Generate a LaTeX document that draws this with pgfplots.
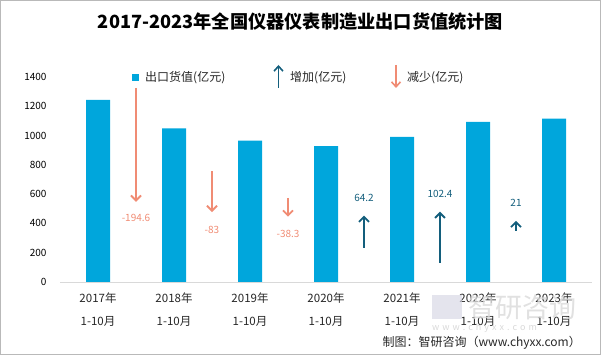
\documentclass[border=0pt]{standalone}
\usepackage{pgfplots}
\pgfplotsset{compat=1.18}
\usepackage{fontspec}
\setmainfont{Noto Sans CJK SC}
\usetikzlibrary{arrows.meta}
\definecolor{barblue}{HTML}{00A6DC}
\definecolor{upc}{HTML}{135E7C}
\definecolor{downc}{HTML}{F08C74}
\definecolor{txt}{HTML}{262626}
\begin{document}
\begin{tikzpicture}[x=1pt,y=1pt]
\draw[gray!55, line width=1pt] (0.5,0.5) rectangle (600.5,354.5);
\node[font=\bfseries\fontsize{18.2}{18.2}\selectfont, text=black] at (300.5,333) {2017-2023年全国仪器仪表制造业出口货值统计图};
\begin{axis}[at={(98pt,73pt)}, anchor=origin, scale only axis,
  width=532pt, height=205pt,
  xmin=-0.5, xmax=6.5, ymin=0, ymax=1400,
  axis x line=bottom, axis y line=left,
  x axis line style={-, draw=gray!30, line width=0.8pt},
  y axis line style={draw=none},
  major tick length=0pt,
  ytick={0,200,...,1400},
  xtick={0,...,6},
  xticklabels={{2017年\\1-10月},{2018年\\1-10月},{2019年\\1-10月},{2020年\\1-10月},{2021年\\1-10月},{2022年\\1-10月},{2023年\\1-10月}},
  xticklabel style={align=center, font=\fontsize{11.5}{23}\selectfont, text=txt, yshift=-7pt},
  yticklabel style={font=\fontsize{10}{10}\selectfont, text=black, xshift=-10pt},
  /pgf/number format/assume math mode=true,
  /pgf/number format/1000 sep={},
  clip=false,
]
\addplot[ybar, bar width=24pt, fill=barblue, draw=none] coordinates {
  (0,1243.6) (1,1049.0) (2,966.0) (3,927.7) (4,991.9) (5,1094.3) (6,1115.3)};
% decrease arrows
\addplot[downc, line width=1.8pt, -{Straight Barb[length=5pt,width=10pt]}] coordinates {(0.5,1325) (0.5,548)};
\addplot[downc, line width=1.8pt, -{Straight Barb[length=5pt,width=10pt]}] coordinates {(1.5,758) (1.5,478)};
\addplot[downc, line width=1.8pt, -{Straight Barb[length=5pt,width=10pt]}] coordinates {(2.5,574) (2.5,446)};
% increase arrows
\addplot[upc, line width=1.8pt, -{Straight Barb[length=5pt,width=10pt]}] coordinates {(3.5,234) (3.5,453)};
\addplot[upc, line width=1.8pt, -{Straight Barb[length=5pt,width=10pt]}] coordinates {(4.5,130) (4.5,480)};
\addplot[upc, line width=1.8pt, -{Straight Barb[length=5pt,width=10pt]}] coordinates {(5.5,350) (5.5,418)};
% labels
\addplot[draw=none, mark=none, nodes near coords, point meta=explicit symbolic,
  nodes near coords style={anchor=center, font=\fontsize{10}{10}\selectfont, text=downc}]
  table[meta=lab] {
x y lab
0.5 437 -194.6
1.5 355 -83
2.5 328 -38.3
};
\addplot[draw=none, mark=none, nodes near coords, point meta=explicit symbolic,
  nodes near coords style={anchor=center, font=\fontsize{10}{10}\selectfont, text=upc}]
  table[meta=lab] {
x y lab
3.5 574 64.2
4.5 601 102.4
5.5 540 21
};
\end{axis}
% legend
\fill[barblue] (132,273.5) rectangle (139,280.5);
\node[anchor=west, font=\fontsize{12}{12}\selectfont, text=txt, inner sep=0pt] at (145,277) {出口货值(亿元)};
\draw[upc, line width=1.6pt, -{Straight Barb[length=5pt,width=9pt]}] (278.5,267) -- (278.5,290);
\node[anchor=west, font=\fontsize{12}{12}\selectfont, text=txt, inner sep=0pt] at (290,277) {增加(亿元)};
\draw[downc, line width=1.6pt, -{Straight Barb[length=5pt,width=9pt]}] (396,290) -- (396,267);
\node[anchor=west, font=\fontsize{12}{12}\selectfont, text=txt, inner sep=0pt] at (407,277) {减少(亿元)};
% watermark
\node[anchor=west, font=\fontsize{27}{27}\selectfont, text=gray!30, opacity=0.8, inner sep=0pt] at (468,48) {智研咨询};
\node[anchor=west, font=\fontsize{9}{9}\selectfont, text=gray!30, inner sep=0pt] at (432,27) {w\,\,w\,\,w\,\,.\,\,c\,\,h\,\,y\,\,x\,\,x\,\,.\,\,c\,\,o\,\,m};
\fill[blue!20!gray!25, opacity=0.7] (432,36) rectangle (462,60);
% footer
\node[anchor=east, font=\fontsize{12}{12}\selectfont, text=txt, inner sep=0pt] at (581,12) {制图：智研咨询（www.chyxx.com）};
\end{tikzpicture}
\end{document}
